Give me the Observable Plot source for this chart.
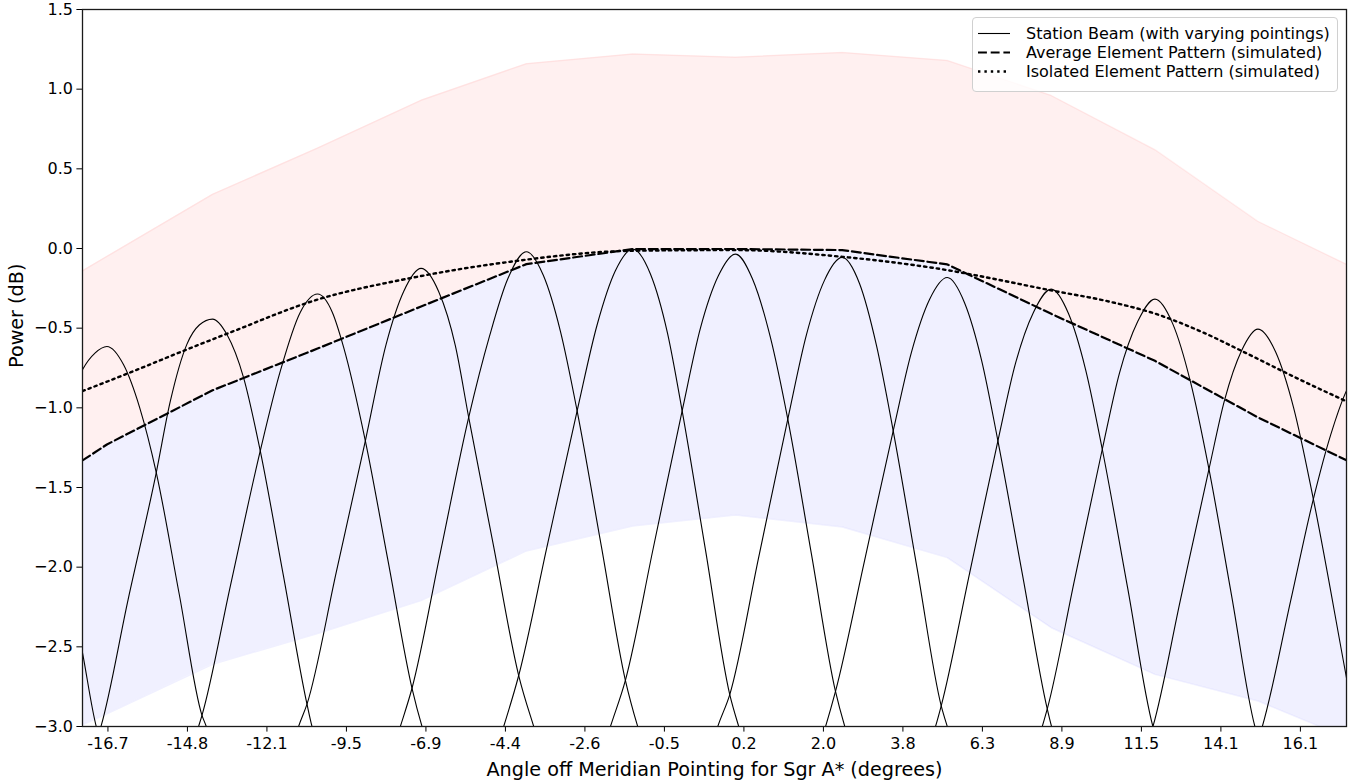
<!DOCTYPE html>
<html>
<head>
<meta charset="utf-8">
<script src="https://cdn.jsdelivr.net/npm/d3@7"></script>
<script src="https://cdn.jsdelivr.net/npm/@observablehq/plot@0.6"></script>
<style>
  body { margin: 0; background: #fff; }
  #wrap { position: relative; width: 1359px; height: 783px; font-family: "DejaVu Sans", sans-serif; }
  #legend { position: absolute; left: 972px; top: 17px; width: 364px; height: 73px;
            border: 1px solid #d0d0d0; border-radius: 4px; background: rgba(255,255,255,0.8);
            font-size: 16px; color: #000; }
  .row { position: absolute; left: 0; height: 19px; display: flex; align-items: center; white-space: nowrap; }
  .row svg { margin-left: 5px; }
  .row span { margin-left: 16px; }
</style>
</head>
<body>
<div id="wrap">
  <div id="chart"></div>
  <div id="legend"></div>
</div>
<script>
// ---------- data ----------
// x positions are in "tick index" units (tick k sits at k)
const xTickLabels = ["-16.7","-14.8","-12.1","-9.5","-6.9","-4.4","-2.6","-0.5","0.2","2.0","3.8","6.3","8.9","11.5","14.1","16.1"];
const xDomain = [-0.32, 15.58];
const yDomain = [-3, 1.5];
const yTicks = [-3.0, -2.5, -2.0, -1.5, -1.0, -0.5, 0.0, 0.5, 1.0, 1.5];

const xLabel = "Angle off Meridian Pointing for Sgr A* (degrees)";
const yLabel = "Power (dB)";
const legendLabels = ["Station Beam (with varying pointings)", "Average Element Pattern (simulated)", "Isolated Element Pattern (simulated)"];

// pattern vertices (at the plot edges and at each pointing)
const patternX = [-0.32, -0.013, 1.316, 2.637, 3.939, 5.264, 6.601, 7.894, 9.236, 10.558, 11.866, 13.170, 14.466, 15.582];
const avgElement = [-1.33, -1.23, -0.89, -0.628, -0.364, -0.098, -0.004, -0.003, -0.01, -0.10, -0.41, -0.705, -1.06, -1.33];
const bandUpper = [-0.14, -0.05, 0.34, 0.63, 0.93, 1.16, 1.22, 1.20, 1.23, 1.18, 0.96, 0.62, 0.17, -0.10];
const bandLower = [-2.99, -2.92, -2.61, -2.416, -2.21, -1.898, -1.741, -1.672, -1.748, -1.94, -2.38, -2.673, -2.84, -3.07];

// isolated element pattern
const isoX = [-0.32, 0.281, 0.951, 1.539, 2.587, 3.804, 5.062, 6.614, 7.894, 9.236, 10.347, 11.899, 12.612, 13.178, 13.745, 14.311, 14.940, 15.582];
const isoY = [-0.895, -0.778, -0.642, -0.527, -0.328, -0.186, -0.083, -0.014, -0.01, -0.052, -0.119, -0.266, -0.335, -0.41, -0.52, -0.655, -0.81, -0.96];

// station beams, [x, dB]
const beam0 = [[-0.60,-1.80],[-0.315,-2.55],[-0.147,-3.0],[-0.084,-3.10]];
const beam1 = [[-0.474,-0.95],[-0.315,-0.757],[-0.160,-0.655],[-0.013,-0.615],[0.197,-0.73],[0.400,-1.0],[0.608,-1.406],[0.897,-2.17],[1.183,-2.93],[1.237,-3.0],[1.300,-3.10]];
const beam2 = [[-0.151,-3.10],[-0.088,-3.0],[0.255,-2.2],[0.608,-1.406],[0.784,-0.96],[0.994,-0.60],[1.149,-0.48],[1.316,-0.443],[1.497,-0.54],[1.706,-0.81],[1.916,-1.27],[2.206,-2.05],[2.504,-2.86],[2.567,-3.0],[2.630,-3.10]];
const beam3 = [[1.077,-3.10],[1.140,-3.0],[1.183,-2.93],[1.539,-2.12],[1.916,-1.27],[2.168,-0.77],[2.420,-0.40],[2.637,-0.286],[2.822,-0.40],[2.965,-0.62],[3.238,-1.207],[3.527,-1.97],[3.825,-2.76],[3.951,-3.0],[4.014,-3.10]];
const beam4 = [[2.335,-3.10],[2.398,-3.0],[2.504,-2.86],[2.873,-2.03],[3.238,-1.207],[3.500,-0.60],[3.720,-0.27],[3.939,-0.125],[4.160,-0.27],[4.370,-0.61],[4.538,-1.06],[4.848,-1.86],[5.167,-2.68],[5.356,-3.0],[5.419,-3.10]];
const beam5 = [[3.615,-3.10],[3.678,-3.0],[3.825,-2.76],[4.181,-1.91],[4.538,-1.06],[4.800,-0.55],[5.030,-0.19],[5.264,-0.02],[5.478,-0.17],[5.692,-0.52],[5.902,-1.019],[6.207,-1.87],[6.509,-2.71],[6.664,-3.0],[6.727,-3.10]];
const beam6 = [[4.915,-3.10],[4.978,-3.0],[5.167,-2.68],[5.528,-1.86],[5.902,-1.019],[6.153,-0.48],[6.383,-0.14],[6.601,-0.004],[6.824,-0.16],[7.038,-0.53],[7.223,-1.019],[7.516,-1.89],[7.822,-2.80],[7.935,-3.0],[7.998,-3.10]];
const beam7 = [[6.258,-3.10],[6.321,-3.0],[6.509,-2.71],[6.862,-1.875],[7.223,-1.019],[7.453,-0.50],[7.680,-0.17],[7.894,-0.035],[8.107,-0.19],[8.334,-0.56],[8.552,-1.071],[8.850,-1.92],[9.152,-2.78],[9.269,-3.0],[9.332,-3.10]];
const beam8 = [[7.608,-3.10],[7.671,-3.0],[7.822,-2.80],[8.183,-1.945],[8.552,-1.071],[8.787,-0.54],[9.013,-0.20],[9.236,-0.056],[9.454,-0.22],[9.668,-0.61],[9.878,-1.144],[10.183,-2.02],[10.482,-2.87],[10.558,-3.0],[10.621,-3.10]];
const beam9 = [[8.964,-3.10],[9.027,-3.0],[9.152,-2.78],[9.517,-1.96],[9.878,-1.144],[10.108,-0.65],[10.335,-0.32],[10.558,-0.182],[10.775,-0.34],[10.989,-0.70],[11.195,-1.207],[11.505,-2.05],[11.816,-2.89],[11.870,-3.0],[11.933,-3.10]];
const beam10 = [[10.347,-3.10],[10.410,-3.0],[10.482,-2.87],[10.838,-2.04],[11.195,-1.207],[11.417,-0.72],[11.643,-0.40],[11.866,-0.255],[12.084,-0.41],[12.298,-0.76],[12.508,-1.26],[12.827,-2.13],[13.145,-3.0],[13.208,-3.10]];
const beam11 = [[11.690,-3.10],[11.753,-3.0],[11.816,-2.89],[12.159,-2.08],[12.508,-1.26],[12.725,-0.78],[12.952,-0.46],[13.170,-0.318],[13.392,-0.47],[13.619,-0.84],[13.850,-1.385],[14.135,-2.18],[14.428,-3.0],[14.491,-3.10]];
const beam12 = [[13.082,-3.10],[13.145,-3.0],[13.493,-2.2],[13.850,-1.385],[14.047,-0.95],[14.261,-0.64],[14.466,-0.506],[14.689,-0.65],[14.915,-1.0],[15.163,-1.573],[15.582,-2.70],[15.758,-3.17]];
const beam13 = [[14.458,-3.10],[14.521,-3.0],[14.878,-2.21],[15.163,-1.573],[15.381,-1.17],[15.582,-0.89],[15.784,-0.74],[15.947,-0.70]];

// ---------- build tables ----------
const beams = [beam0, beam1, beam2, beam3, beam4, beam5, beam6, beam7, beam8, beam9, beam10, beam11, beam12, beam13];
const beamRows = beams.flatMap((b, k) => b.map(([x, y]) => ({k, x, y})));
const bandRows = patternX.map((x, i) => ({x, avg: avgElement[i], up: bandUpper[i], lo: bandLower[i]}));
const isoRows = isoX.map((x, i) => ({x, y: isoY[i]}));
const xTickPos = xTickLabels.map((_, i) => i);
const fmtY = d => (d < 0 ? "\u2212" : "") + Math.abs(d).toFixed(1);

const dashAvg = "8.9,3.8";
const dashIso = "2.4,4";

const chart = Plot.plot({
  width: 1359,
  height: 783,
  marginLeft: 82, marginRight: 13, marginTop: 9, marginBottom: 57,
  style: {fontFamily: "DejaVu Sans, sans-serif", fontSize: "16px", color: "#000", background: "#fff"},
  x: {domain: xDomain},
  y: {domain: yDomain},
  marks: [
    Plot.areaY(bandRows, {x: "x", y1: "avg", y2: "up", fill: "#ff0000", fillOpacity: 0.06, clip: true}),
    Plot.areaY(bandRows, {x: "x", y1: "lo", y2: "avg", fill: "#0000ff", fillOpacity: 0.06, clip: true}),
    Plot.line(bandRows, {x: "x", y: "up", stroke: "#ff0000", strokeOpacity: 0.06, strokeWidth: 1.5, clip: true}),
    Plot.line(bandRows, {x: "x", y: "lo", stroke: "#0000ff", strokeOpacity: 0.06, strokeWidth: 1.5, clip: true}),
    Plot.line(beamRows, {x: "x", y: "y", z: "k", stroke: "#000", strokeWidth: 1.1, curve: "monotone-x", clip: true}),
    Plot.line(bandRows, {x: "x", y: "avg", stroke: "#000", strokeWidth: 2.2, strokeDasharray: dashAvg, clip: true}),
    Plot.line(isoRows, {x: "x", y: "y", stroke: "#000", strokeWidth: 2.4, strokeDasharray: dashIso, curve: "monotone-x", clip: true}),
    Plot.axisX({ticks: xTickPos, tickFormat: d => xTickLabels[Math.round(d)], tickSize: 5.6, tickPadding: 6, label: null, fontSize: 16}),
    Plot.axisY({ticks: yTicks, tickFormat: fmtY, tickSize: 5.6, tickPadding: 4, label: null, fontSize: 16}),
    Plot.frame({stroke: "#1a1a1a", strokeWidth: 1.3}),
    Plot.text([xLabel], {frameAnchor: "bottom", dy: 49, fontSize: 19.2, text: d => d}),
    Plot.text([yLabel], {frameAnchor: "left", dx: -66, rotate: -90, fontSize: 19.2, text: d => d})
  ]
});
document.getElementById("chart").appendChild(chart);

// ---------- legend ----------
const legendStyles = [{w: 1.1, dash: null}, {w: 2.2, dash: dashAvg}, {w: 2.4, dash: dashIso}];
const legend = document.getElementById("legend");
legendLabels.forEach((lab, i) => {
  const row = document.createElement("div");
  row.className = "row";
  row.style.top = (6 + 19 * i) + "px";
  const st = legendStyles[i];
  row.innerHTML = `<svg width="32" height="19"><line x1="0" x2="32" y1="9.5" y2="9.5" stroke="#000" stroke-width="${st.w}" ${st.dash ? `stroke-dasharray="${st.dash}"` : ""}/></svg><span>${lab}</span>`;
  legend.appendChild(row);
});
</script>
</body>
</html>
